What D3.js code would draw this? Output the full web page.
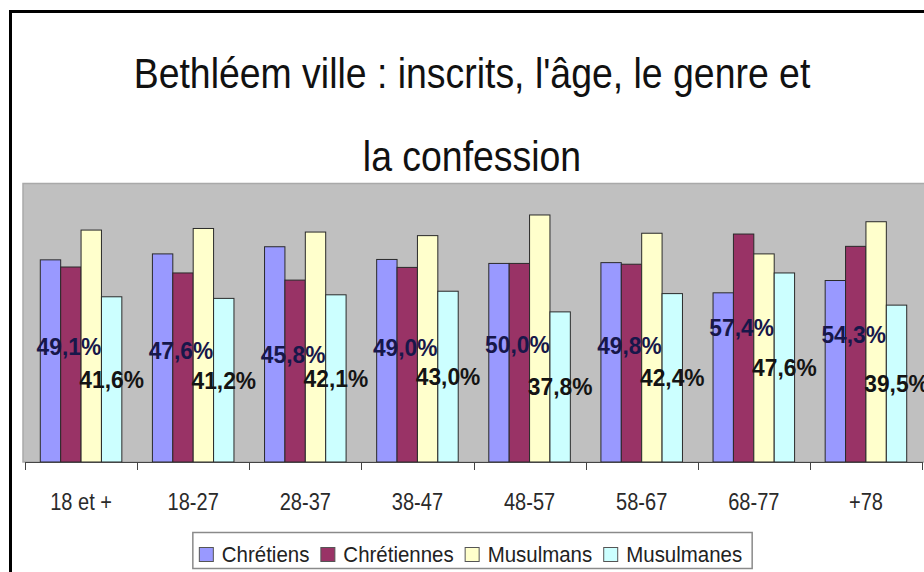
<!DOCTYPE html>
<html>
<head>
<meta charset="utf-8">
<title>Bethléem ville : inscrits, l'âge, le genre et la confession</title>
<script src="https://d3js.org/d3.v7.min.js"></script>
<style>
body { margin: 0; background: #fff; }
svg { display: block; }
svg text { font-family: "Liberation Sans", Arial, sans-serif; }
</style>
</head>
<body>
<div id="chart"></div>
<script>
(function() {
"use strict";

// data (share of each gender inside each confession, in %)
var categories = ["18 et +", "18-27", "28-37", "38-47", "48-57", "58-67", "68-77", "+78"];
var seriesNames = ["Chrétiens", "Chrétiennes", "Musulmans", "Musulmanes"];
var chretiens   = [50.9, 52.4, 54.2, 51.0, 50.0, 50.2, 42.6, 45.7];
var chretiennes = [49.1, 47.6, 45.8, 49.0, 50.0, 49.8, 57.4, 54.3];
var musulmans   = [58.4, 58.8, 57.9, 57.0, 62.2, 57.6, 52.4, 60.5];
var musulmanes  = [41.6, 41.2, 42.1, 43.0, 37.8, 42.4, 47.6, 39.5];
var titleLines = ["Bethléem ville : inscrits, l'âge, le genre et", "la confession"];
var yMax = 70;

var seriesValues = [chretiens, chretiennes, musulmans, musulmanes];
var colors = ["#9999ff", "#993366", "#ffffcc", "#ccffff"];

var W = 924, H = 572;
var plot = { left: 25, right: 922, top: 184, bottom: 462 };
// the source picture is stretched vertically, so text gets squeezed sideways
var squeeze = 0.87;

var svg = d3.select("#chart").append("svg")
    .attr("width", W)
    .attr("height", H);

svg.append("rect")
    .attr("width", W).attr("height", H)
    .attr("fill", "#fff");

// chart frame, only left and top edges are visible in the crop
svg.append("rect")
    .attr("x", 10.5).attr("y", 11.5)
    .attr("width", W + 20).attr("height", H + 20)
    .attr("fill", "none")
    .attr("stroke", "#000")
    .attr("stroke-width", 3);

// title
var baselines = [88, 171];
titleLines.forEach(function(t, i) {
    svg.append("text")
        .attr("transform", "translate(472," + baselines[i] + ") scale(" + squeeze + ",1)")
        .attr("text-anchor", "middle")
        .style("font-size", "43px")
        .attr("fill", "#111")
        .text(t);
});

var x = d3.scaleBand()
    .domain(categories)
    .range([plot.left, plot.right])
    .padding(0);

var xs = d3.scaleBand()
    .domain(seriesNames)
    .range([0, x.bandwidth()])
    .paddingInner(0)
    .paddingOuter(0.75);

var y = d3.scaleLinear()
    .domain([0, yMax])
    .range([plot.bottom, plot.top]);

// plot area
svg.append("rect")
    .attr("x", plot.left - 2)
    .attr("y", y(yMax) - 0.5)
    .attr("width", W - plot.left + 10)
    .attr("height", y(0) - y(yMax) + 0.5)
    .attr("fill", "#c0c0c0")
    .attr("stroke", "#a9a9a9")
    .attr("stroke-width", 1.5);

// bars
var groups = svg.selectAll(".grp")
    .data(categories)
    .enter().append("g")
    .attr("class", "grp")
    .attr("transform", function(d) { return "translate(" + x(d) + ",0)"; });

groups.each(function(cat, i) {
    var g = d3.select(this);
    seriesNames.forEach(function(s, j) {
        var v = seriesValues[j][i];
        g.append("rect")
            .attr("x", xs(s))
            .attr("y", y(v))
            .attr("width", xs.bandwidth())
            .attr("height", y(0) - y(v))
            .attr("fill", colors[j])
            .attr("stroke", "#2a2a2a")
            .attr("stroke-width", 1);
    });
});

// category axis: baseline with ticks between groups
svg.append("line")
    .attr("x1", plot.left).attr("x2", plot.right + 1)
    .attr("y1", plot.bottom + 0.5).attr("y2", plot.bottom + 0.5)
    .attr("stroke", "#444");

var edges = categories.map(function(c) { return x(c); }).concat([plot.right]);
svg.selectAll(".edge")
    .data(edges)
    .enter().append("line")
    .attr("class", "edge")
    .attr("x1", function(d) { return Math.round(d) + 0.5; })
    .attr("x2", function(d) { return Math.round(d) + 0.5; })
    .attr("y1", plot.bottom)
    .attr("y2", plot.bottom + 8)
    .attr("stroke", "#444");

var xAxis = svg.append("g")
    .attr("transform", "translate(0," + plot.bottom + ")")
    .call(d3.axisBottom(x).tickSize(0).tickPadding(31.5));
xAxis.attr("font-family", null).attr("font-size", null);
xAxis.select(".domain").remove();
xAxis.selectAll("text")
    .attr("transform", "scale(" + squeeze + ",1)")
    .style("font-size", "23px")
    .attr("fill", "#2a2a2a");

// data labels: female share for each confession
var fmt = function(v) { return d3.format(".1f")(v).replace(".", ",") + "%"; };

function addLabel(cx, cy, txt, color) {
    svg.append("text")
        .attr("transform", "translate(" + cx + "," + cy + ") scale(0.95,1)")
        .attr("text-anchor", "middle")
        .attr("dy", "0.35em")
        .style("font-size", "24px")
        .style("font-weight", "bold")
        .attr("fill", color)
        .text(txt);
}

categories.forEach(function(cat, i) {
    var vf = chretiennes[i];
    addLabel(x(cat) + xs("Chrétiennes") + xs.bandwidth() / 2 - 2, y(vf * 0.59), fmt(vf), "#17174a");
    var vm = musulmanes[i];
    addLabel(x(cat) + xs("Musulmanes") + xs.bandwidth() / 2, y(vm / 2), fmt(vm), "#141414");
});

// legend
var legendBox = svg.append("rect")
    .attr("y", 532.5)
    .attr("height", 36)
    .attr("fill", "#fff")
    .attr("stroke", "#8a8a8a")
    .attr("stroke-width", 1.5);
var legend = svg.append("g");
var lx = 0;
var sw = 15, legendSqueeze = 0.93;
seriesNames.forEach(function(s, j) {
    legend.append("rect")
        .attr("x", lx + 0.5).attr("y", 547.5)
        .attr("width", sw - 1).attr("height", sw - 1)
        .attr("fill", colors[j])
        .attr("stroke", "#555");
    var t = legend.append("text")
        .attr("transform", "translate(" + (lx + sw + 8) + ",562) scale(" + legendSqueeze + ",1)")
        .style("font-size", "22px")
        .attr("fill", "#222")
        .text(s);
    lx += sw + 8 + t.node().getComputedTextLength() * legendSqueeze + 11;
});
var boxW = lx - 11 + 16;
var boxX = (plot.left - 2 + plot.right) / 2 - boxW / 2;
legendBox.attr("x", boxX).attr("width", boxW);
legend.attr("transform", "translate(" + (boxX + 6) + ",0)");

})();
</script>
</body>
</html>
